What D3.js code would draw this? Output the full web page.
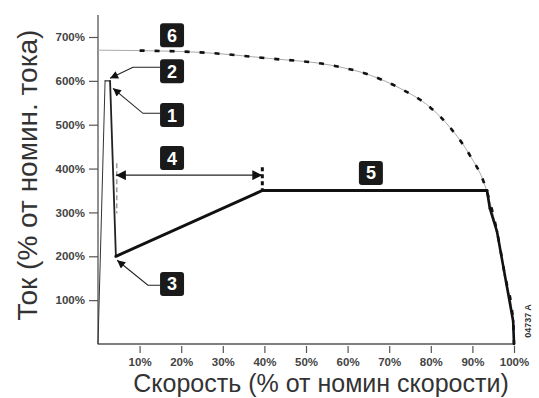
<!DOCTYPE html>
<html><head><meta charset="utf-8">
<script src="https://cdn.jsdelivr.net/npm/d3@7"></script>
<style>body{margin:0;background:#fff}svg{display:block}</style>
</head><body>
<svg id="c" width="539" height="398"></svg>
<script>
// ---- data ----
const xTicks = [10,20,30,40,50,60,70,80,90,100];
const yTicks = [100,200,300,400,500,600,700];
const xTickLabels = ["10%","20%","30%","40%","50%","60%","70%","80%","90%","100%"];
const yTickLabels = ["100%","200%","300%","400%","500%","600%","700%"];
// starting current profile (speed %, current %)
const startSpeed   = [0, 1.7, 2.9, 4.3, 39.5, 93.5, 94.2, 95.9, 97.8, 99.8, 100];
const startCurrent = [0, 600, 600, 200, 350, 350, 309, 257, 157, 52, 0];
// direct-on-line current curve
const dolSpeed   = [0, 10, 24.5, 41.3, 55.8, 65.4, 72.6, 79.8, 84.6, 89.4, 93.0, 95.9, 97.8, 99.8, 100];
const dolCurrent = [670, 669, 665, 651, 636, 613, 583, 540, 494, 430, 362, 257, 157, 52, 0];
// numbered callouts: [label, speed, current]
const callouts = [["6",17.8,704],["2",17.8,622],["1",17.8,522],["4",17.8,424],["3",17.8,137],["5",65.6,390]];
const leaders = [
  [[14.9,631],[8.4,631],[2.9,606]],
  [[14.9,526],[10.8,526],[3.6,583]],
  [[14.9,134],[12.0,134],[4.6,191]]
];
const rampSpan = [4.3, 39.5, 385];

const svg = d3.select("#c");
const x = d3.scaleLinear().domain([0,100]).range([98,514]);
const y = d3.scaleLinear().domain([0,700]).range([344,37]);
const font = "'Liberation Sans', Arial, sans-serif";

const defs = svg.append("defs");
defs.append("marker").attr("id","ah").attr("viewBox","0 0 10 10").attr("refX",10).attr("refY",5)
  .attr("markerWidth",10).attr("markerHeight",8).attr("markerUnits","userSpaceOnUse").attr("orient","auto-start-reverse")
  .append("path").attr("d","M0,0L10,5L0,10Z").attr("fill","#111");
defs.append("marker").attr("id","ah2").attr("viewBox","0 0 10 10").attr("refX",10).attr("refY",5)
  .attr("markerWidth",13).attr("markerHeight",10).attr("markerUnits","userSpaceOnUse").attr("orient","auto-start-reverse")
  .append("path").attr("d","M0,0L10,5L0,10Z").attr("fill","#111");

// axes
const xAxis = d3.axisBottom(x).tickValues(xTicks).tickFormat((d,i)=>xTickLabels[i]).tickSize(7).tickPadding(5);
const yAxis = d3.axisLeft(y).tickValues(yTicks).tickFormat((d,i)=>yTickLabels[i]).tickSize(9).tickPadding(4);
const gx = svg.append("g").attr("transform",`translate(0,${y(0)+2})`).call(xAxis);
gx.select(".domain").remove();
svg.append("line").attr("x1",x(0)).attr("x2",x(100)).attr("y1",y(0)).attr("y2",y(0)).attr("stroke","#555").attr("stroke-width",1.3);
const gy = svg.append("g").attr("transform",`translate(${x(0)},0)`).call(yAxis);
gy.select(".domain").remove();
svg.append("line").attr("x1",x(0)).attr("x2",x(0)).attr("y1",y(0)).attr("y2",15).attr("stroke","#555").attr("stroke-width",1.3);
[gx,gy].forEach(g=>{
  g.selectAll(".tick line").attr("stroke","#555").attr("stroke-width",1.2);
  g.selectAll(".tick text").attr("font-family",font).attr("font-size",11.5).attr("font-weight","bold").attr("fill","#444");
});

// axis titles
svg.append("text").attr("transform","translate(37,175) rotate(-90)").attr("text-anchor","middle")
  .attr("font-family",font).attr("font-size",28).attr("fill","#333").text("Ток (% от номин. тока)");
svg.append("text").attr("x",321).attr("y",392).attr("text-anchor","middle")
  .attr("font-family",font).attr("font-size",25).attr("fill","#333").text("Скорость (% от номин скорости)");
svg.append("text").attr("transform","translate(531,321) rotate(-90)").attr("text-anchor","middle")
  .attr("font-family",font).attr("font-size",9).attr("font-weight","bold").attr("fill","#333").text("04737 A");

// DOL curve
const dolPts = dolSpeed.map((s,i)=>[x(s),y(dolCurrent[i])]);
const dolLine = d3.line().curve(d3.curveMonotoneX);
svg.append("path").attr("d",dolLine(dolPts)).attr("fill","none").attr("stroke","#aaa").attr("stroke-width",1);
svg.append("path").attr("d",dolLine(dolPts.slice(1))).attr("fill","none").attr("stroke","#111").attr("stroke-width",2.6).attr("stroke-dasharray","5,10");

// start current profile, drawn segment by segment with varying weight
const widths = [1, 1.2, 1.8, 3, 3.2, 2.6, 2.6, 2.6, 2.6, 2.6];
const colors = ["#333","#333","#222","#111","#111","#111","#111","#111","#111","#111"];
const sp = startSpeed.map((s,i)=>[x(s),y(startCurrent[i])]);
for(let i=0;i<sp.length-1;i++){
  svg.append("line").attr("x1",sp[i][0]).attr("y1",sp[i][1]).attr("x2",sp[i+1][0]).attr("y2",sp[i+1][1])
    .attr("stroke",colors[i]).attr("stroke-width",widths[i]).attr("stroke-linecap","round");
}

// ramp span markers
svg.append("line").attr("x1",x(4.5)).attr("x2",x(4.5)).attr("y1",y(412)).attr("y2",y(298))
  .attr("stroke","#999").attr("stroke-width",1.5).attr("stroke-dasharray","5,3");
svg.append("line").attr("x1",x(rampSpan[1])).attr("x2",x(rampSpan[1])).attr("y1",y(403)).attr("y2",y(351))
  .attr("stroke","#111").attr("stroke-width",3).attr("stroke-dasharray","4,3");
svg.append("line").attr("x1",x(rampSpan[0])).attr("x2",x(rampSpan[1])).attr("y1",y(rampSpan[2])).attr("y2",y(rampSpan[2]))
  .attr("stroke","#222").attr("stroke-width",1.2)
  .attr("marker-start","url(#ah2)").attr("marker-end","url(#ah2)");

// leaders
leaders.forEach(l=>{
  svg.append("path").attr("d",d3.line()(l.map(p=>[x(p[0]),y(p[1])])))
    .attr("fill","none").attr("stroke","#222").attr("stroke-width",1.1).attr("marker-end","url(#ah)");
});

// callout boxes
callouts.forEach(c=>{
  const cx = x(c[1]), cy = y(c[2]);
  svg.append("rect").attr("x",cx-12).attr("y",cy-12).attr("width",24).attr("height",24).attr("rx",3)
    .attr("fill","#1a1a1a");
  svg.append("text").attr("x",cx).attr("y",cy+6.5).attr("text-anchor","middle")
    .attr("font-family",font).attr("font-size",18).attr("font-weight","bold").attr("fill","#fff").text(c[0]);
});
</script>
</body></html>
